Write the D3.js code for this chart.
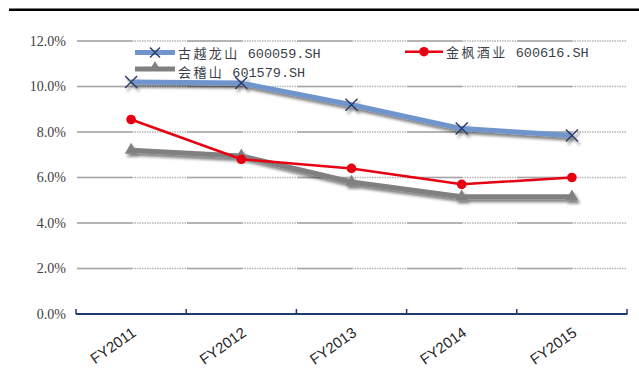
<!DOCTYPE html>
<html><head><meta charset="utf-8">
<script src="https://cdn.jsdelivr.net/npm/d3@7"></script>
<style>body{margin:0;background:#fff}svg{display:block}</style>
</head><body>
<svg id="c" width="639" height="383"></svg>
<script>
const categories = ["FY2011","FY2012","FY2013","FY2014","FY2015"];
const gyls = [10.2, 10.15, 9.2, 8.15, 7.85];   // 古越龙山 600059.SH
const jfjy = [8.55, 6.8, 6.4, 5.7, 6.0];       // 金枫酒业 600616.SH
const kjs  = [7.2, 6.95, 5.8, 5.15, 5.15];     // 会稽山 601579.SH
const yTicks = [0, 2, 4, 6, 8, 10, 12];
const seriesNames = [["古越龙山"," 600059.SH"],["金枫酒业"," 600616.SH"],["会稽山"," 601579.SH"]];

const svg = d3.select("#c");
const defs = svg.append("defs");
const f = defs.append("filter").attr("id","sh").attr("x","-20%").attr("y","-50%").attr("width","140%").attr("height","200%");
f.append("feGaussianBlur").attr("in","SourceAlpha").attr("stdDeviation",1.6).attr("result","b");
f.append("feOffset").attr("in","b").attr("dx",2).attr("dy",3).attr("result","o");
f.append("feComponentTransfer").attr("in","o").attr("result","o2").append("feFuncA").attr("type","linear").attr("slope",0.5);
const m = f.append("feMerge"); m.append("feMergeNode").attr("in","o2"); m.append("feMergeNode").attr("in","SourceGraphic");

// top rule
svg.append("rect").attr("x",9).attr("y",8.5).attr("width",630).attr("height",2.5).attr("fill","#000");

const x = d3.scaleBand().domain(categories).range([76, 627]);
const y = d3.scaleLinear().domain([0, 12]).range([314, 41]);
const cx = d => x(d) + x.bandwidth()/2;

// gridlines
const grid = svg.append("g");
yTicks.filter(t => t > 0).forEach(t => {
  grid.append("line").attr("x1",77).attr("x2",627).attr("y1",y(t)).attr("y2",y(t))
    .attr("stroke","#b4b4b4").attr("stroke-width",1.4).attr("stroke-dasharray","1.5,1");
  grid.append("line").attr("x1",77).attr("x2",627).attr("y1",y(t)).attr("y2",y(t))
    .attr("stroke","#a6a6a6").attr("stroke-width",1.4).attr("stroke-dasharray","55,55");
});

// y labels
const yAxis = d3.axisLeft(y).tickValues(yTicks).tickSize(0).tickPadding(0).tickFormat(d => d3.format(".1f")(d) + "%");
const yg = svg.append("g").attr("transform","translate(66,0)").call(yAxis);
yg.select(".domain").remove();
yg.selectAll("text").attr("font-family","Liberation Serif, serif").attr("font-size",14).attr("fill","#404040").attr("dy","0.32em");

// x axis
const xg = svg.append("g").attr("transform","translate(0,314)");
xg.append("line").attr("x1",76).attr("x2",627.5).attr("y1",0).attr("y2",0).attr("stroke","#1f3a6e").attr("stroke-width",2);
const bounds = categories.map(c => x(c)).concat([x.range()[1]]);
xg.selectAll("line.tk").data(bounds).enter().append("line").attr("class","tk")
  .attr("x1",d=>d).attr("x2",d=>d).attr("y1",0).attr("y2",-5).attr("stroke","#1f3a6e").attr("stroke-width",1.5);
xg.selectAll("text").data(categories).enter().append("text")
  .attr("transform", d => `translate(${cx(d)+6},21) rotate(-35)`)
  .attr("text-anchor","end").attr("font-family","Liberation Sans, Arial, sans-serif").attr("font-size",15)
  .attr("fill","#262626").text(d => d);

const line = d3.line().x((d,i) => cx(categories[i])).y(d => y(d));

// gray series 会稽山
const gGray = svg.append("g").attr("filter","url(#sh)");
gGray.append("path").attr("d", line(kjs)).attr("fill","none").attr("stroke","#808080").attr("stroke-width",5).attr("stroke-linejoin","round");
gGray.selectAll("path.m").data(kjs).enter().append("path").attr("class","m")
  .attr("d", d3.symbol(d3.symbolTriangle, 70)()).attr("transform",(d,i)=>`translate(${cx(categories[i])},${y(d)})`).attr("fill","#808080");

// red series 金枫酒业
const gRed = svg.append("g");
gRed.append("path").attr("d", line(jfjy)).attr("fill","none").attr("stroke","#e60012").attr("stroke-width",2.5);
gRed.selectAll("circle").data(jfjy).enter().append("circle")
  .attr("cx",(d,i)=>cx(categories[i])).attr("cy",d=>y(d)).attr("r",4.8).attr("fill","#e60012");

// blue series 古越龙山
const gBlue = svg.append("g").attr("filter","url(#sh)");
gBlue.append("path").attr("d", line(gyls)).attr("fill","none").attr("stroke","#7094cc").attr("stroke-width",5).attr("stroke-linejoin","round");
gBlue.selectAll("path.m").data(gyls).enter().append("path").attr("class","m")
  .attr("d","M-6,-6L6,6M-6,6L6,-6").attr("transform",(d,i)=>`translate(${cx(categories[i])},${y(d)})`)
  .attr("stroke","#2e3d66").attr("stroke-width",1.5).attr("fill","none");

// legend
const lg = svg.append("g");
function legText(x0, yb, parts){
  const t = lg.append("text").attr("x",x0).attr("y",yb).attr("fill","#3a3f4a");
  t.append("tspan").attr("font-family","Noto Sans CJK SC").attr("font-size",13).attr("letter-spacing",2.4).text(parts[0]);
  t.append("tspan").attr("font-family","Liberation Mono, monospace").attr("font-size",13.5).text(parts[1]);
}
// blue
lg.append("line").attr("x1",135).attr("x2",175).attr("y1",52.5).attr("y2",52.5).attr("stroke","#7094cc").attr("stroke-width",5);
lg.append("path").attr("d","M-5,-5L5,5M-5,5L5,-5").attr("transform","translate(155,52.5)").attr("stroke","#2e3d66").attr("stroke-width",1.5);
legText(178, 57.5, seriesNames[0]);
// gray
lg.append("line").attr("x1",135).attr("x2",175).attr("y1",69).attr("y2",69).attr("stroke","#808080").attr("stroke-width",5);
lg.append("path").attr("d", d3.symbol(d3.symbolTriangle, 60)()).attr("transform","translate(155,67.7)").attr("fill","#808080");
legText(178, 76.5, seriesNames[2]);
// red
lg.append("line").attr("x1",405).attr("x2",443).attr("y1",51.7).attr("y2",51.7).attr("stroke","#e60012").attr("stroke-width",2.5);
lg.append("circle").attr("cx",424).attr("cy",51.7).attr("r",4.8).attr("fill","#e60012");
legText(446, 57, seriesNames[1]);
</script>
</body></html>
